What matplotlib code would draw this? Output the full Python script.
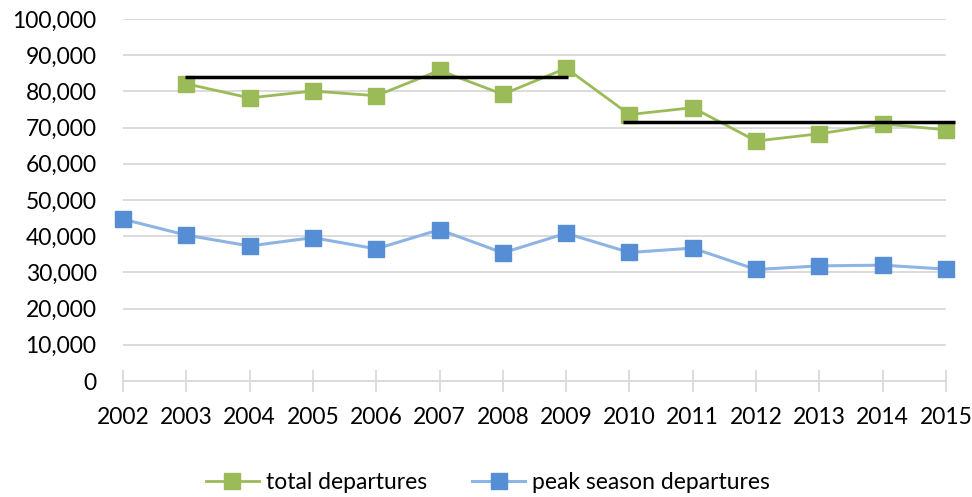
import matplotlib
matplotlib.use("Agg")
import matplotlib.pyplot as plt
from matplotlib.ticker import FuncFormatter

plt.rcParams['font.family'] = ['Lato', 'DejaVu Sans']

# data
years = list(range(2002, 2016))
total_years = list(range(2003, 2016))
total_departures = [82100, 78200, 80100, 78800, 85800, 79200, 86400,
                    73600, 75500, 66300, 68300, 71000, 69400]
peak_departures = [44700, 40300, 37300, 39600, 36500, 41800, 35400,
                   40800, 35500, 36700, 30800, 31800, 32000, 30900]

# average lines (drawn shapes in the original)
avg1_x = [2002.98, 2009.03]
avg1_y = [84000, 84000]
avg2_x = [2009.9, 2015.14]
avg2_y = [71500, 71500]

green = '#9BBB59'
blue_marker = '#558ED5'
blue_line = '#8EB4E3'
grid_col = '#D9D9D9'

fig = plt.figure(figsize=(9.72, 4.97), dpi=100)
ax = fig.add_axes([0.1265, 0.2334, 0.9733 - 0.1265, 0.9618 - 0.2334])

ax.plot(total_years, total_departures, color=green, lw=2, marker='s',
        markersize=11, markerfacecolor=green, markeredgecolor=green,
        label='total departures', zorder=3, clip_on=False)
ax.plot(years, peak_departures, color=blue_line, lw=2.2, marker='s',
        markersize=11, markerfacecolor=blue_marker, markeredgecolor=blue_marker,
        label='peak season departures', zorder=3, clip_on=False)

ax.plot(avg1_x, avg1_y, color='black', lw=2.5, zorder=4, solid_capstyle='butt')
ax.plot(avg2_x, avg2_y, color='black', lw=2.5, zorder=4, solid_capstyle='butt',
        clip_on=False)

ax.set_xlim(2002, 2015)
ax.set_ylim(0, 100000)
ax.set_yticks(range(0, 100001, 10000))
ax.yaxis.set_major_formatter(FuncFormatter(lambda v, p: f'{int(v):,}'))
ax.set_xticks(years)

ax.grid(axis='y', color=grid_col, lw=1.3)
ax.set_axisbelow(True)
for s in ['top', 'right', 'left']:
    ax.spines[s].set_visible(False)
ax.spines['bottom'].set_color(grid_col)
ax.spines['bottom'].set_linewidth(1.3)
ax.tick_params(axis='y', length=0, labelsize=16.5, pad=19)
ax.tick_params(axis='x', direction='inout', length=16, width=1.3,
               color=grid_col, labelsize=16.5, pad=11)

leg = fig.legend(loc='center', bbox_to_anchor=(0.502, 0.03), ncol=2,
                 frameon=False, fontsize=16.5, handlelength=2.3,
                 columnspacing=2.0, handletextpad=0.3)

fig.savefig('out.png', dpi=100)
